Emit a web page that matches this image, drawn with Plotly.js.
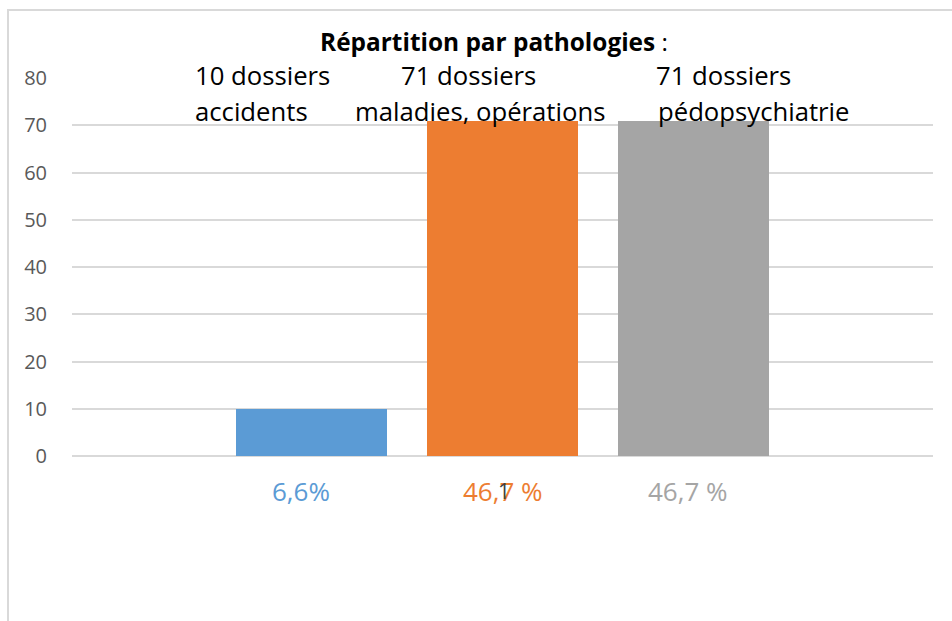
<!DOCTYPE html>
<html>
<head>
<meta charset="utf-8">
<script src="https://cdn.plot.ly/plotly-3.0.1.min.js"></script>
<style>
html,body{margin:0;padding:0;background:#fff;}
#wrap{position:relative;width:952px;height:621px;}
#chart{position:absolute;left:0;top:0;width:952px;height:621px;}
#frame{position:absolute;left:7px;top:9px;width:945px;height:612px;border-left:2px solid #D9D9D9;border-top:2px solid #D9D9D9;pointer-events:none;}
</style>
</head>
<body>
<div id="wrap"><div id="chart"></div><div id="frame"></div></div>
<script>
// Data
var categories = [0, 1, 2];
var values = [10, 71, 71];
var colors = ['#5B9BD5', '#ED7D31', '#A5A5A5'];
var topLine1 = ['10 dossiers', '71 dossiers', '71 dossiers'];
var topLine2 = ['accidents', 'maladies, opérations', 'pédopsychiatrie'];
var percentLabels = ['6,6%', '46,7 %', '46,7 %'];
var yTicks = [0, 10, 20, 30, 40, 50, 60, 70, 80];

// Layout geometry (pixels)
var L = 72, R = 933, T = 77.5, B = 456;
function px(x){ return (x - L) / (R - L); }
function py(y){ return (B - y) / (B - T); }

var font = '"Open Sans", sans-serif';

var trace = {
  type: 'bar',
  x: categories,
  y: values,
  width: 0.79,
  marker: {color: colors},
  hoverinfo: 'skip'
};

var annotations = [];
// top labels (left-anchored pixel positions)
var line1X = [193, 399, 654];
var line2X = [193, 353, 656];
for (var i = 0; i < categories.length; i++) {
  annotations.push({xref:'paper', yref:'paper', x:px(line1X[i]), y:py(75), xanchor:'left', yanchor:'middle',
    text: topLine1[i], showarrow:false, font:{family:font, size:25.7, color:'#000'}});
  annotations.push({xref:'paper', yref:'paper', x:px(line2X[i]), y:py(111), xanchor:'left', yanchor:'middle',
    text: topLine2[i], showarrow:false, font:{family:font, size:25.7, color:'#000'}});
}
// percent labels below bars
var pctOffset = [-11, 0, -5];
for (var j = 0; j < categories.length; j++) {
  annotations.push({xref:'x', yref:'paper', x:categories[j], xshift:pctOffset[j], y:py(491), xanchor:'center', yanchor:'middle',
    text: percentLabels[j], showarrow:false, font:{family:font, size:26, color:colors[j]}});
}
// stray "1" glyph
annotations.push({xref:'paper', yref:'paper', x:px(504), y:py(491), xanchor:'center', yanchor:'middle',
  text:'1', showarrow:false, font:{family:font, size:21, color:'#404040'}});

var layout = {
  width: 952, height: 621,
  margin: {l: L, r: 952 - R, t: T, b: 621 - B, pad: 0},
  paper_bgcolor: '#fff', plot_bgcolor: '#fff',
  showlegend: false,
  title: {text: '<b>Répartition par pathologies</b> :', x: px(494), xref:'paper', xanchor:'center', y: 1 - 42/621, yanchor:'middle',
    font: {family: font, size: 24.4, color: '#000'}},
  xaxis: {range: [-1.254, 3.254], showticklabels: false, showgrid: false, zeroline: false, showline: false, ticks: ''},
  yaxis: {range: [0, 80], tickvals: yTicks, showgrid: true, gridcolor: '#D9D9D9', gridwidth: 2,
    zeroline: true, zerolinecolor: '#D9D9D9', zerolinewidth: 2, showline: false, ticks: '',
    ticklabelstandoff: 24, tickfont: {family: font, size: 20, color: '#595959'}},
  annotations: annotations,
  bargap: 0
};

Plotly.newPlot('chart', [trace], layout, {displayModeBar: false, staticPlot: true});
</script>
</body>
</html>
